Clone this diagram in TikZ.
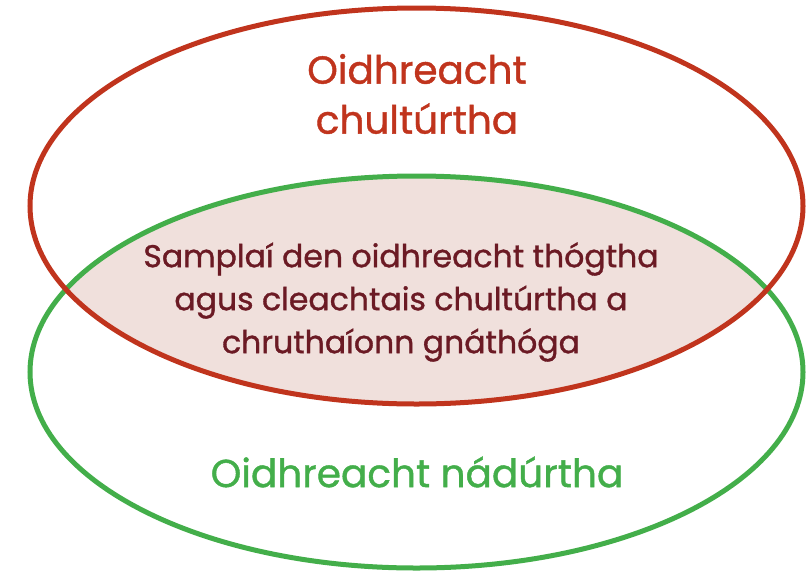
\documentclass[tikz,border=0pt]{standalone}
\usepackage{fontspec}
\setmainfont{Poppins}[UprightFeatures={FakeBold=1.1}]
\definecolor{cultred}{HTML}{C0341D}
\definecolor{natgreen}{HTML}{43AE4A}
\definecolor{overlapfill}{HTML}{F0E0DC}
\definecolor{overlaptext}{HTML}{6B1A24}
\usetikzlibrary{positioning}

\begin{document}
\begin{tikzpicture}[
    x=1pt, y=-1pt,
    ring/.style={line width=5pt},
    culturelabel/.style={text=cultred, font=\fontsize{39}{50}\selectfont, align=center},
    naturelabel/.style={text=natgreen, font=\fontsize{39}{50}\selectfont, align=center},
    overlaplabel/.style={text=overlaptext, font=\fontsize{31.5}{43}\selectfont, align=center}
]
\useasboundingbox (0,0) rectangle (808,571);
% overlap fill
\begin{scope}
    \clip (416.5,206) ellipse [x radius=386.5, y radius=198];
    \fill[overlapfill] (416.5,372) ellipse [x radius=386.5, y radius=196];
\end{scope}
\draw[ring, natgreen] (416.5,372) ellipse [x radius=386.5, y radius=196];
\draw[ring, cultred] (416.5,206) ellipse [x radius=386.5, y radius=198];
\node[culturelabel] (cultural) at (417,94) {Oidhreacht\\chultúrtha};
\node[overlaplabel] (overlap) at (401,302) {Samplaí den oidhreacht thógtha\\agus cleachtais chultúrtha a\\chruthaíonn gnáthóga};
\node[naturelabel] (natural) at (417,472) {Oidhreacht nádúrtha};
\end{tikzpicture}
\end{document}
